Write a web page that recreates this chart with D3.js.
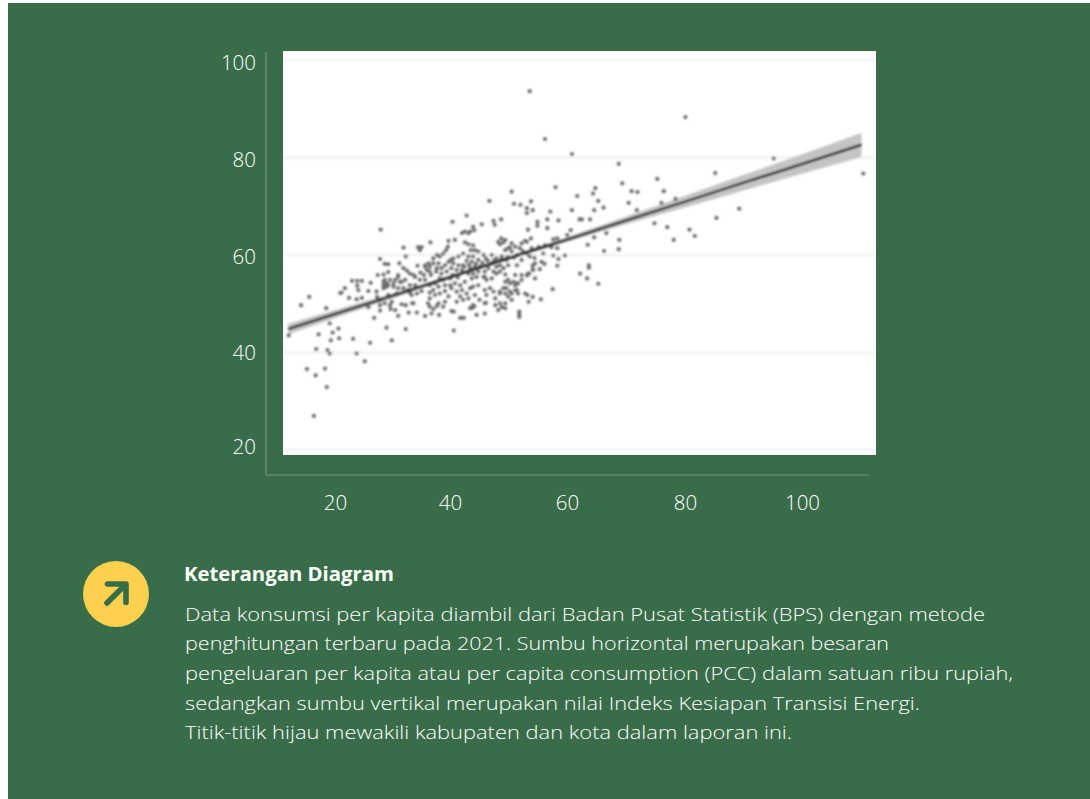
<!DOCTYPE html>
<html>
<head>
<meta charset="utf-8">
<script src="https://cdn.jsdelivr.net/npm/d3@7"></script>
<style>
	html, body { margin: 0; padding: 0; background: #fff; }
	svg { display: block; }
	text { font-family: "Open Sans", Lato, sans-serif; font-weight: 400; fill: #f4f7f5; }
</style>
</head>
<body>
<svg id="viz" width="1090" height="799"></svg>
<script>
var xTicks = [20, 40, 60, 80, 100];
var yTicks = [20, 40, 60, 80, 100];

// [pengeluaran per kapita, indeks kesiapan transisi energi]
var districts = [
	[53.3,93.6],[55.9,83.8],[60.5,80.7],[57.7,73.9],[50.2,73.0],[61.4,72.1],[46.4,71.1],[50.6,70.5],[51.7,70.3],[53.5,71.0],
	[52.8,69.6],[53.8,69.2],[52.8,68.6],[56.8,68.9],[60.5,69.2],[42.5,68.1],[56.3,67.3],[58.2,67.1],[61.8,67.3],[40.1,66.8],
	[48.4,67.3],[47.1,67.0],[47.3,66.2],[54.6,66.8],[54.6,66.0],[45.1,66.3],[27.8,65.2],[43.6,65.8],[43.1,64.8],[43.8,65.1],
	[42.8,64.5],[41.7,64.5],[53.0,65.2],[56.3,65.5],[60.3,65.1],[53.5,63.4],[52.5,62.9],[39.4,62.9],[40.5,63.1],[39.3,61.7],
	[36.3,62.6],[31.7,61.5],[34.2,61.6],[34.8,61.6],[34.5,61.0],[32.1,59.7],[27.7,59.2],
	[79.9,88.3],[95.0,79.8],[110.3,76.7],[68.5,78.7],[85.0,76.8],[69.1,74.7],[75.1,75.6],[64.5,73.7],[64.1,72.6],
	[70.7,73.1],[71.7,72.9],[76.2,73.1],[65.0,71.1],[70.2,70.7],[75.8,70.7],[78.2,71.5],[64.3,69.2],[65.9,69.7],[71.6,69.2],
	[89.1,69.5],[85.2,67.6],[62.2,67.3],[63.6,67.3],[74.6,66.5],[76.8,65.7],[80.6,65.2],[81.5,63.9],[77.9,63.1],
	[66.4,64.5],[64.3,63.6],[63.2,62.1],[68.6,63.1],[68.5,61.2],[66.0,60.8],
	[63.4,57.9],[63.4,57.4],[61.9,56.2],[63.1,55.2],[65.0,54.1],
	[59.7,64.1],[57.3,63.2],[58.0,63.4],[52.8,62.7],[55.9,62.0],[57.0,61.6],[58.0,61.4],[55.6,60.3],[57.3,59.9],[58.2,59.2],
	[59.3,59.9],[54.1,59.4],[55.3,58.6],[55.8,58.2],[53.8,57.9],[53.8,57.1],[58.0,57.8],[55.0,57.1],[52.8,55.8],[53.2,56.2],
	[54.2,55.2],[57.2,53.0],[52.9,51.8],[53.8,51.4],[55.2,50.9],[53.1,50.4],
	[12.1,43.5],[15.6,51.4],[14.2,49.7],[18.5,49.1],[19.1,46.0],[20.6,44.9],[19.6,44.1],[17.2,43.7],[19.3,42.5],[20.7,42.9],
	[23.1,42.8],[26.0,42.0],[29.7,42.5],[28.8,45.1],[32.1,44.8],[40.3,44.5],[16.8,40.7],[18.7,40.5],[19.1,39.8],[23.7,39.8],
	[25.1,38.2],[15.2,36.6],[18.3,36.7],[16.7,35.3],[18.6,32.9],[16.4,27.0],
	[22.9,54.7],[23.8,54.7],[24.6,54.7],[23.8,53.7],[24.0,52.8],[21.7,53.2],[21.1,52.3],[20.9,52.2],[22.4,51.2],[23.7,50.9],
	[24.6,51.2],[26.1,54.3],[25.7,52.6],[27.1,52.5],[27.2,51.4],[27.3,55.9],[28.3,56.0],[29.1,56.5],[28.3,54.5],[28.9,54.2],
	[28.8,53.5],[28.3,53.2],[30.0,54.2],[30.8,55.5],[31.4,54.5],[26.7,47.1],[27.7,49.7],[27.7,48.6],[25.7,49.3],[29.4,49.7],
	[29.5,48.9],[30.3,48.7],[30.8,47.5],[31.4,49.9],[32.1,49.7],[32.6,48.2],[34.0,48.2],[35.4,47.5],[36.5,48.0],[37.8,47.7],
	[33.2,50.1],[36.2,49.4],[36.8,48.9],[37.4,49.5],[39.9,48.5],[40.3,48.4],[41.4,47.1],[42.0,47.1],[44.2,47.7],[45.6,48.0],
	[43.4,49.1],[43.8,49.5],[47.9,48.7],[48.5,49.3],[49.1,49.1],[51.5,48.4],[51.5,47.8],[51.5,47.3],
	[42.2,64.8],[48.4,63.4],[47.9,62.7],[48.8,62.6],[48.2,62.2],[49.1,63.1],[50.2,62.4],[51.9,62.4],[50.8,61.7],[49.6,61.4],
	[49.1,61.0],[42.2,62.6],[42.8,62.2],[43.6,62.0],[43.2,61.0],[43.9,61.0],[44.5,60.7],[41.9,60.3],[41.1,59.7],[40.2,59.3],
	[39.8,59.0],[42.8,59.7],[43.6,59.7],[44.5,59.0],[43.4,58.6],[42.5,58.8],[45.4,60.0],[45.8,59.3],[46.8,60.0],[47.6,59.3],
	[48.5,59.7],[49.3,59.0],[50.2,60.7],[51.1,60.0],[49.9,61.5],[51.6,61.4],[40.2,58.3],[41.1,57.9],[41.9,57.9],[39.9,57.3],
	[40.8,56.9],[41.7,56.9],[43.1,57.3],[43.9,57.6],[44.8,57.6],[42.8,56.2],[43.6,56.2],[44.5,56.6],[43.4,55.2],[44.2,55.5],
	[45.4,55.5],[46.8,58.3],[47.6,57.6],[46.2,57.3],[47.1,56.6],[48.2,57.9],[45.6,56.6],[45.6,55.5],[45.9,54.9],[46.8,55.2],
	[47.6,56.2],[48.2,56.6],[48.8,57.3],[49.6,57.9],[49.6,54.9],[50.5,54.5],[51.1,54.2],[51.9,54.9],[50.8,52.8],[49.9,52.5],
	[51.3,52.1],[52.5,52.1],[47.4,51.1],[48.2,52.1],[48.8,53.2],[48.2,50.1],[47.4,49.7],[49.1,50.1],[46.5,53.2],[45.6,52.8],
	[45.9,51.8],[47.1,52.5],[40.5,54.2],[41.4,53.8],[39.9,53.2],[40.8,52.5],[42.2,54.5],[41.7,52.8],[42.5,52.1],[43.1,53.2],
	[43.6,53.5],[44.5,53.8],[41.4,51.5],[41.9,50.8],[40.8,50.4],[42.8,51.1],[43.9,51.8],[44.7,50.8],[43.6,49.7],[43.1,49.1],
	[45.6,50.1],[39.0,61.0],[37.4,60.0],[37.9,59.7],[38.5,60.3],[36.8,59.3],[36.0,58.3],[35.4,57.6],[36.2,57.6],[36.8,58.3],
	[37.7,58.3],[38.2,57.3],[38.8,57.9],[39.4,58.6],[37.4,57.3],[28.5,58.2],[29.1,58.1],[31.0,58.3],[34.1,57.8],[31.7,57.3],
	[32.3,56.8],[32.8,56.2],[33.4,55.9],[33.7,55.5],[35.4,57.9],[35.7,56.9],[36.2,56.6],[30.8,55.9],[30.3,54.9],[31.1,54.5],
	[29.4,54.9],[28.5,54.9],[28.3,53.8],[29.1,53.8],[30.0,53.5],[30.8,53.2],[32.0,54.9],[32.8,53.8],[33.7,53.8],[34.5,54.9],
	[35.4,54.9],[36.2,53.8],[37.1,54.2],[37.9,55.2],[38.5,54.9],[31.7,53.2],[32.5,52.8],[33.1,51.8],[32.8,52.3],[34.0,52.1],
	[34.8,52.6],[30.5,52.1],[29.1,51.8],[27.7,50.8],[29.7,50.4],[28.5,50.1],[33.4,50.1],[38.5,49.4],[37.7,50.1],[36.2,51.1],
	[35.9,50.1],[38.8,50.4],[36.8,52.8],[37.1,51.8],[37.9,52.1],[38.8,52.6],[36.2,52.3],[39.4,51.5],[39.7,53.8],[39.7,55.2],
	[38.8,53.8],[37.7,53.5],[50.8,55.9],[51.9,55.9],[53.0,56.2],[51.3,54.2],[51.1,52.8],[50.2,52.1],[50.2,50.8],[49.1,54.5],
	[49.9,54.2],[50.8,53.8],[49.3,53.2],[49.1,52.1],[48.2,52.5],[45.8,50.2],[49.6,51.5],[54.2,58.3],[53.9,56.9],[53.3,59.7],
	[51.1,57.9],[51.9,59.0],[52.8,60.3],[49.1,56.0],
	[34.6,56.4],[35.2,55.9],[36.4,55.9],[37.3,56.6],[38.2,56.2],[39.1,56.6],[40.1,55.9],[41.0,55.4],[42.1,57.6],[42.9,58.0],
	[44.1,58.2],[45.2,58.4],[46.1,58.8],[47.2,58.9],[48.4,59.0],[49.5,59.6],[50.6,59.5],[52.1,60.8],[53.6,61.4],[54.8,61.6]
];

var fitX = [12, 20, 30, 40, 50, 60, 70, 80, 90, 100, 110];
var fitY = [44.8, 47.9, 51.7, 55.6, 59.5, 63.3, 67.2, 71.0, 74.9, 78.7, 82.6];
var fitLow = [43.7, 47.1, 51.2, 55.25, 59.15, 62.8, 66.4, 69.8, 73.3, 76.7, 80.1];
var fitHigh = [45.9, 48.7, 52.2, 55.95, 59.85, 63.8, 68.0, 72.2, 76.5, 80.7, 85.1];

var noteTitle = "Keterangan Diagram";
var noteLines = [
	{ text: "Data konsumsi per kapita diambil dari Badan Pusat Statistik (BPS) dengan metode", w: 800 },
	{ text: "penghitungan terbaru pada 2021. Sumbu horizontal merupakan besaran", w: 704 },
	{ text: "pengeluaran per kapita atau per capita consumption (PCC) dalam satuan ribu rupiah,", w: 828 },
	{ text: "sedangkan sumbu vertikal merupakan nilai Indeks Kesiapan Transisi Energi.", w: 735 },
	{ text: "Titik-titik hijau mewakili kabupaten dan kota dalam laporan ini.", w: 607 }
];

var green = "#396d4a";
var svg = d3.select("#viz");

var defs = svg.append("defs");
defs.append("filter").attr("id", "soft")
	.attr("x", "-5%").attr("y", "-5%").attr("width", "110%").attr("height", "110%")
	.append("feGaussianBlur").attr("stdDeviation", 0.85);
defs.append("clipPath").attr("id", "plotClip")
	.append("rect").attr("x", 283).attr("y", 51).attr("width", 593).attr("height", 404);

svg.append("rect").attr("x", 8).attr("y", 3).attr("width", 1082).attr("height", 796).attr("fill", green);

var x = d3.scaleLinear().domain([20, 100]).range([335, 803]);
var y = d3.scaleLinear().domain([20, 100]).range([450, 60]);
// the printed labels sit a little off the gridlines of the pasted picture
var yLabel = d3.scaleLinear().domain(yTicks).range([446, 352, 256, 159, 62]);
var xLabel = d3.scaleLinear().domain(xTicks).range([335, 450, 567, 685, 802]);

// frame lines
svg.append("line").attr("x1", 266).attr("x2", 266).attr("y1", 52).attr("y2", 475)
	.attr("stroke", "#73967e").attr("stroke-width", 1.2);
svg.append("line").attr("x1", 266).attr("x2", 869).attr("y1", 475).attr("y2", 475)
	.attr("stroke", "#73967e").attr("stroke-width", 1.2);

svg.append("rect").attr("x", 283).attr("y", 51).attr("width", 593).attr("height", 404).attr("fill", "#fff");

var plot = svg.append("g").attr("clip-path", "url(#plotClip)")
	.append("g").attr("filter", "url(#soft)");

plot.selectAll("line.grid")
	.data(yTicks)
	.enter().append("line")
	.attr("class", "grid")
	.attr("x1", 283).attr("x2", 876)
	.attr("y1", function (d) { return y(d); })
	.attr("y2", function (d) { return y(d); })
	.attr("stroke", "#f1f1f1")
	.attr("stroke-width", 2.4);

var band = d3.area()
	.x(function (d) { return x(d); })
	.y0(function (d, i) { return y(fitLow[i]); })
	.y1(function (d, i) { return y(fitHigh[i]); })
	.curve(d3.curveMonotoneX);
plot.append("path").attr("d", band(fitX)).attr("fill", "#c4c4c4");

plot.selectAll("circle")
	.data(districts)
	.enter().append("circle")
	.attr("cx", function (d) { return x(d[0]); })
	.attr("cy", function (d) { return y(d[1]); })
	.attr("r", 2.1)
	.attr("fill", "#6a6a6a");

var fit = d3.line()
	.x(function (d) { return x(d); })
	.y(function (d, i) { return y(fitY[i]); });
plot.append("path").attr("d", fit(fitX)).attr("fill", "none").attr("stroke", "#1f1f1f").attr("stroke-width", 2.6);

// tick labels
var xAxis = svg.append("g").attr("transform", "translate(0,510)")
	.call(d3.axisBottom(xLabel).tickValues(xTicks).tickSize(0).tickPadding(0));
xAxis.select(".domain").remove();
xAxis.selectAll("text").attr("dy", 0).style("font-size", "20.5px").style("font-weight", 300).style("fill", "#fff").attr("y", 0);

var yAxis = svg.append("g").attr("transform", "translate(256,0)")
	.call(d3.axisLeft(yLabel).tickValues(yTicks).tickSize(0).tickPadding(0));
yAxis.select(".domain").remove();
yAxis.selectAll("text").attr("dy", "0.35em").style("font-size", "20.5px").style("font-weight", 300).style("fill", "#fff");

// note
svg.append("circle").attr("cx", 116).attr("cy", 594).attr("r", 33).attr("fill", "#fdd04e");
svg.append("path")
	.attr("d", "M107.5,584H126V602.5M125.5,584.5L107,603")
	.attr("fill", "none").attr("stroke", green).attr("stroke-width", 5.6)
	.attr("stroke-linecap", "round").attr("stroke-linejoin", "round");

svg.append("text").attr("x", 184).attr("y", 581)
	.attr("textLength", 210).attr("lengthAdjust", "spacingAndGlyphs")
	.style("font-size", "19.5px").style("font-weight", 700).style("fill", "#fff")
	.text(noteTitle);

svg.selectAll("text.note")
	.data(noteLines)
	.enter().append("text")
	.attr("class", "note")
	.attr("x", 185)
	.attr("y", function (d, i) { return d3.range(620.5, 760, 29.7)[i]; })
	.attr("textLength", function (d) { return d.w; })
	.attr("lengthAdjust", "spacingAndGlyphs")
	.style("font-size", "19px")
	.style("font-weight", 300)
	.style("fill", "#fff")
	.text(function (d) { return d.text; });
</script>
</body>
</html>
